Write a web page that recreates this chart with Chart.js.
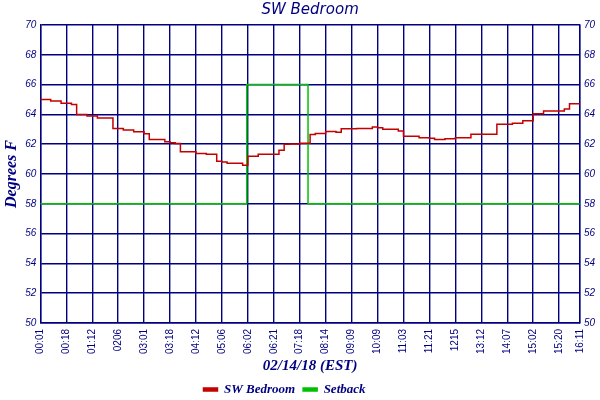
<!DOCTYPE html>
<html>
<head>
<meta charset="utf-8">
<title>SW Bedroom</title>
<script src="https://cdn.jsdelivr.net/npm/chart.js@4.4.1/dist/chart.umd.min.js"></script>
<style>
  body { margin: 0; background: #fff; }
  #wrap { width: 600px; height: 400px; }
</style>
</head>
<body>
<div id="wrap"><canvas id="tempChart" width="600" height="400"></canvas></div>
<script>
const NAVY = "#000080";

// x axis labels and the sample index each one sits on
const tickLabels = ["00:01", "00:18", "01:12", "0206", "03:01", "03:18", "04:12", "05:06", "06:02", "06:21", "07:18",
    "08:14", "09:09", "10:09", "11:03", "11:21", "1215", "13:12", "14:07", "15:02", "15:20", "16:11"];
const tickIndex = [0, 5, 10, 15, 20, 25, 30, 35, 40, 45, 50, 55, 60, 65, 70, 75, 80, 85, 90, 95, 100, 104];

// SW Bedroom readings, one per sample (deg F)
const bedroomTemps = [
    65.0, 65.0, 64.9, 64.9, 64.75, 64.75, 64.67, 64.0, 64.0, 63.9,
    63.9, 63.75, 63.75, 63.75, 63.05, 63.05, 62.95, 62.95, 62.83, 62.83,
    62.7, 62.32, 62.32, 62.32, 62.16, 62.1, 62.05, 61.5, 61.5, 61.5,
    61.37, 61.37, 61.33, 61.33, 60.86, 60.8, 60.72, 60.72, 60.72, 60.59,
    61.19, 61.19, 61.33, 61.33, 61.33, 61.33, 61.6, 62.0, 62.02, 62.02,
    62.07, 62.07, 62.65, 62.72, 62.72, 62.86, 62.86, 62.8, 63.03, 63.03,
    63.03, 63.06, 63.06, 63.06, 63.15, 63.1, 63.01, 63.01, 63.01, 62.88,
    62.54, 62.54, 62.54, 62.43, 62.43, 62.4, 62.32, 62.32, 62.36, 62.36,
    62.43, 62.43, 62.43, 62.67, 62.67, 62.67, 62.67, 62.67, 63.33, 63.33,
    63.33, 63.41, 63.41, 63.57, 63.57, 64.04, 64.04, 64.22, 64.22, 64.22,
    64.22, 64.36, 64.71, 64.71, 64.71
];

// setback schedule: sample index where it changes, and the new value
const setbackIndex = [0, 39.8, 51.6, 104];
const setbackTemps = [58, 66, 58, 58];

const SERIF = "'Liberation Serif', 'Times New Roman', serif";
const tickFont = { family: "'Liberation Sans', Arial, sans-serif", size: 10 };
const yTickFont = { family: "'Liberation Sans', Arial, sans-serif", size: 10, style: "italic" };

function yAxis(position, showGrid) {
    return {
        type: "linear",
        position,
        min: 50,
        max: 70,
        ticks: { stepSize: 2, color: NAVY, font: yTickFont, padding: 4 },
        grid: { display: showGrid, color: NAVY, lineWidth: 1.4, drawTicks: false },
        border: { color: NAVY, width: 1.4 }
    };
}

// the legend sits a little left of centre in the original
const nudgeLegend = {
    id: "nudgeLegend",
    afterUpdate(chart) {
        const lg = chart.legend;
        if (!lg) return;
        lg.left -= 16;
        lg.right -= 16;
        lg.adjustHitBoxes();
    }
};

const ctx = document.getElementById("tempChart");
new Chart(ctx.getContext("2d"), {
    type: "line",
    data: {
        datasets: [{
            label: "SW Bedroom",
            data: bedroomTemps.map((t, i) => ({ x: i, y: t })),
            borderColor: "#c40000",
            backgroundColor: "#c40000",
            borderWidth: 1.5,
            stepped: true,
            pointRadius: 0,
            yAxisID: "y"
        }, {
            label: "Setback",
            data: setbackTemps.map((t, i) => ({ x: setbackIndex[i], y: t })),
            borderColor: "#00c000",
            backgroundColor: "#00c000",
            borderWidth: 1.5,
            stepped: true,
            pointRadius: 0,
            yAxisID: "y"
        }]
    },
    plugins: [nudgeLegend],
    options: {
        responsive: false,
        animation: false,
        layout: { padding: { top: 1, right: 1, bottom: -6, left: 2 } },
        scales: {
            x: {
                type: "linear",
                min: 0,
                max: 104,
                afterBuildTicks: axis => { axis.ticks = tickIndex.map(v => ({ value: v })); },
                ticks: {
                    autoSkip: false,
                    minRotation: 90,
                    maxRotation: 90,
                    color: NAVY,
                    font: tickFont,
                    padding: 6,
                    callback: v => tickLabels[tickIndex.indexOf(v)]
                },
                grid: { color: NAVY, lineWidth: 1.4, drawTicks: false },
                border: { color: NAVY, width: 1.4 },
                title: {
                    display: true, text: "02/14/18 (EST)", color: NAVY,
                    font: { family: SERIF, size: 15, style: "italic", weight: "bold" },
                    padding: { top: -3, bottom: 0 }
                }
            },
            y: Object.assign(yAxis("left", true), {
                title: {
                    display: true, text: "Degrees F", color: NAVY,
                    font: { family: SERIF, size: 16, style: "italic", weight: "bold" },
                    padding: 0
                }
            }),
            y2: yAxis("right", false)
        },
        plugins: {
            title: {
                display: true,
                fullSize: false,
                text: "SW Bedroom",
                color: NAVY,
                font: { family: "'DejaVu Sans', sans-serif", size: 15, style: "italic", weight: "normal" },
                padding: { top: 0, bottom: 6 }
            },
            legend: {
                position: "bottom",
                labels: {
                    boxWidth: 14,
                    boxHeight: 3,
                    color: NAVY,
                    padding: 8,
                    font: { family: SERIF, size: 13, style: "italic", weight: "bold" }
                }
            },
            tooltip: { enabled: false }
        }
    }
});
</script>
</body>
</html>
